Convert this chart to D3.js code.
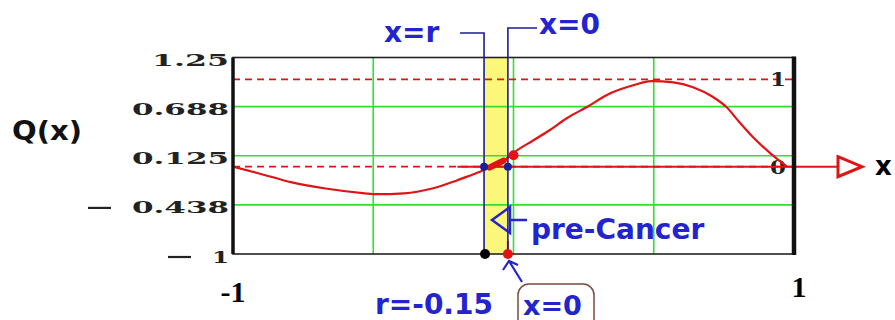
<!DOCTYPE html>
<html>
<head>
<meta charset="utf-8">
<script src="https://cdn.jsdelivr.net/npm/d3@7"></script>
<style>
  body { margin: 0; background: white; }
  svg { display: block; }
</style>
</head>
<body>
<script>
// curve Q(x)
const qx = [-1, -0.91, -0.79, -0.67, -0.53, -0.49, -0.39, -0.29, -0.2, -0.125, -0.1, -0.045, 0, 0.07, 0.13, 0.19, 0.26, 0.345, 0.43, 0.49, 0.57, 0.64, 0.71, 0.76, 0.8, 0.855, 0.915, 0.975]
const qy = [0, -0.075, -0.18, -0.25, -0.305, -0.315, -0.305, -0.25, -0.155, -0.065, -0.03, 0.04, 0.16, 0.3, 0.42, 0.555, 0.68, 0.84, 0.935, 0.98, 0.965, 0.91, 0.8, 0.68, 0.53, 0.335, 0.155, 0]

const yTicks = [1.25, 0.688, 0.125, -0.438, -1]
const yTickText = ["1.25", "0.688", "0.125", "0.438", "1"]
const yGrid = [0.6875, 0.125, -0.4375]
const xGrid = [-0.5, 0, 0.5]
const refLines = [1, 0]           // red dashed markers
const refLabels = ["1", "0"]
const rPos = -0.105               // blue "x=r" line as drawn
const zeroPos = -0.02             // blue "x=0" line as drawn

const width = 895, height = 320

const svg = d3.select("body").append("svg")
    .attr("width", width)
    .attr("height", height)

const x = d3.scaleLinear().domain([-1, 1]).range([233, 794])
const y = d3.scaleLinear().domain([-1, 1.25]).range([254, 57.5])

const blue = "#2323cf"
const navy = "#1d1d96"
const red = "#e01414"
const green = "#2fe02f"

// yellow band between x=r and x=0
svg.append("rect")
    .attr("x", x(rPos))
    .attr("y", y(1.25))
    .attr("width", x(zeroPos) - x(rPos))
    .attr("height", y(-1) - y(1.25))
    .style("fill", "#fbf77a")

// grid
svg.selectAll(".hgrid")
    .data(yGrid)
    .join("line")
    .attr("class", "hgrid")
    .attr("x1", x(-1)).attr("x2", x(1))
    .attr("y1", d => y(d)).attr("y2", d => y(d))
    .style("stroke", green)
    .style("stroke-width", 1.6)

svg.selectAll(".vgrid")
    .data(xGrid)
    .join("line")
    .attr("class", "vgrid")
    .attr("x1", d => x(d)).attr("x2", d => x(d))
    .attr("y1", y(1.25)).attr("y2", y(-1))
    .style("stroke", green)
    .style("stroke-width", 1.6)

// dashed markers at 1 and 0
svg.selectAll(".ref")
    .data(refLines)
    .join("line")
    .attr("class", "ref")
    .attr("x1", x(-1)).attr("x2", x(1))
    .attr("y1", d => y(d)).attr("y2", d => y(d))
    .style("stroke", red)
    .style("stroke-width", 1.6)
    .style("stroke-dasharray", "7,5")

svg.selectAll(".ref-label")
    .data(refLines)
    .join("text")
    .attr("class", "ref-label")
    .attr("x", x(1) - 8)
    .attr("y", d => y(d) + 7)
    .attr("text-anchor", "end")
    .attr("textLength", 16)
    .attr("lengthAdjust", "spacingAndGlyphs")
    .style("font-family", "DejaVu Serif")
    .style("font-weight", "bold")
    .style("font-size", "18px")
    .style("fill", "#222")
    .text((d, i) => refLabels[i])

// solid x axis with arrow
svg.append("line")
    .attr("x1", x(-0.2)).attr("x2", 862)
    .attr("y1", y(0)).attr("y2", y(0))
    .style("stroke", red)
    .style("stroke-width", 2)

svg.append("path")
    .attr("d", `M838,${y(0) - 10} L862,${y(0)} L838,${y(0) + 10} Z`)
    .style("fill", "white")
    .style("stroke", red)
    .style("stroke-width", 3)

svg.append("text")
    .attr("x", 875)
    .attr("y", y(0) + 8)
    .style("font-family", "DejaVu Sans")
    .style("font-weight", "bold")
    .style("font-size", "26px")
    .text("x")

// the curve
const pts = qx.map((d, i) => [d, qy[i]])
svg.append("path")
    .datum(pts)
    .attr("d", d3.line().x(d => x(d[0])).y(d => y(d[1])).curve(d3.curveMonotoneX))
    .style("fill", "none")
    .style("stroke", red)
    .style("stroke-width", 2.2)

// thick blob around the crossing
svg.append("line")
    .attr("x1", x(-0.085)).attr("y1", y(-0.01))
    .attr("x2", x(-0.035)).attr("y2", y(0.07))
    .style("stroke", red)
    .style("stroke-width", 6)
    .style("stroke-linecap", "round")

// frame
svg.append("rect")
    .attr("x", x(-1)).attr("y", y(1.25))
    .attr("width", x(1) - x(-1))
    .attr("height", y(-1) - y(1.25))
    .style("fill", "none")
    .style("stroke", "#222")
    .style("stroke-width", 1.6)

svg.append("line")
    .attr("x1", x(-1)).attr("x2", x(-1))
    .attr("y1", y(1.25)).attr("y2", y(-1))
    .style("stroke", "#111").style("stroke-width", 3.5)

svg.append("line")
    .attr("x1", x(1)).attr("x2", x(1))
    .attr("y1", y(1.25) - 1).attr("y2", y(-1) + 1)
    .style("stroke", "#111").style("stroke-width", 4.5)

// red line down x=0 near bottom
svg.append("line")
    .attr("x1", x(zeroPos)).attr("x2", x(zeroPos))
    .attr("y1", y(-0.85)).attr("y2", y(-1))
    .style("stroke", red).style("stroke-width", 2)

// blue marker lines with brackets
svg.append("path")
    .attr("d", `M460,33 H${x(rPos)} V${y(-1)}`)
    .style("fill", "none").style("stroke", navy).style("stroke-width", 1.6)
svg.append("path")
    .attr("d", `M537,28 H${x(zeroPos)} V${y(-1)}`)
    .style("fill", "none").style("stroke", navy).style("stroke-width", 1.6)

svg.append("text")
    .attr("x", 384).attr("y", 42)
    .style("font-family", "DejaVu Sans").style("font-weight", "bold")
    .style("font-size", "28px").style("fill", blue)
    .text("x=r")
svg.append("text")
    .attr("x", 539).attr("y", 34)
    .style("font-family", "DejaVu Sans").style("font-weight", "bold")
    .style("font-size", "28px").style("fill", blue)
    .text("x=0")

// dots
svg.selectAll(".bdot")
    .data([rPos, zeroPos])
    .join("circle")
    .attr("class", "bdot")
    .attr("cx", d => x(d)).attr("cy", y(0))
    .attr("r", 4)
    .style("fill", navy)

svg.append("circle").attr("cx", x(0)).attr("cy", y(0.13)).attr("r", 5).style("fill", red)
svg.append("circle").attr("cx", x(rPos) + 1).attr("cy", y(-1)).attr("r", 5).style("fill", "#000")
svg.append("circle").attr("cx", x(zeroPos)).attr("cy", y(-1)).attr("r", 5).style("fill", red)

// pre-Cancer arrow
svg.append("path")
    .attr("d", "M492,220 L510,207 L510,233 Z")
    .style("fill", "none").style("stroke", blue).style("stroke-width", 2.5)
svg.append("line")
    .attr("x1", 510).attr("x2", 527).attr("y1", 220).attr("y2", 220)
    .style("stroke", blue).style("stroke-width", 2.5)
svg.append("text")
    .attr("x", 531).attr("y", 239)
    .style("font-family", "DejaVu Sans").style("font-weight", "bold")
    .style("font-size", "28px").style("fill", blue)
    .text("pre-Cancer")

// small arrow pointing at the red dot
svg.append("path")
    .attr("d", "M522,282 L509,261 M503,270 L509,261 L518,265")
    .style("fill", "none").style("stroke", blue).style("stroke-width", 2.2)

// y tick labels
const ticks = svg.selectAll(".ytick")
    .data(yTicks)
    .join("g")
    .attr("class", "ytick")

ticks.append("text")
    .attr("x", 229)
    .attr("y", d => y(d) + 8.5)
    .attr("text-anchor", "end")
    .attr("textLength", (d, i) => yTickText[i].length * 20 - 3)
    .attr("lengthAdjust", "spacingAndGlyphs")
    .style("font-family", "DejaVu Serif")
    .style("font-weight", "bold")
    .style("font-size", "16px")
    .style("fill", "#222")
    .text((d, i) => yTickText[i])

ticks.filter(d => d < 0).append("line")
    .attr("x1", (d, i) => d == -1 ? 168 : 88)
    .attr("x2", (d, i) => d == -1 ? 191 : 111)
    .attr("y1", d => y(d) + 3).attr("y2", d => y(d) + 3)
    .style("stroke", "#222").style("stroke-width", 2.2)

svg.append("text")
    .attr("x", 12).attr("y", 140)
    .attr("textLength", 70)
    .attr("lengthAdjust", "spacingAndGlyphs")
    .style("font-family", "DejaVu Sans").style("font-weight", "bold")
    .style("font-size", "26px").style("fill", "#111")
    .text("Q(x)")

// x end labels
svg.append("text")
    .attr("x", x(-1)).attr("y", 302)
    .attr("text-anchor", "middle")
    .style("font-family", "Liberation Serif").style("font-weight", "bold")
    .style("font-size", "30px")
    .text("-1")
svg.append("text")
    .attr("x", x(1) + 5).attr("y", 297)
    .attr("text-anchor", "middle")
    .style("font-family", "Liberation Serif").style("font-weight", "bold")
    .style("font-size", "30px")
    .text("1")

// bottom labels
svg.append("text")
    .attr("x", 375).attr("y", 314)
    .style("font-family", "DejaVu Sans").style("font-weight", "bold")
    .style("font-size", "28px").style("fill", blue)
    .text("r=-0.15")

svg.append("rect")
    .attr("x", 518).attr("y", 284)
    .attr("width", 76).attr("height", 50)
    .attr("rx", 11)
    .style("fill", "none").style("stroke", "#7a4a3c").style("stroke-width", 1.5)
svg.append("text")
    .attr("x", 523).attr("y", 315)
    .style("font-family", "DejaVu Sans").style("font-weight", "bold")
    .style("font-size", "27px").style("fill", blue)
    .text("x=0")
</script>
</body>
</html>
